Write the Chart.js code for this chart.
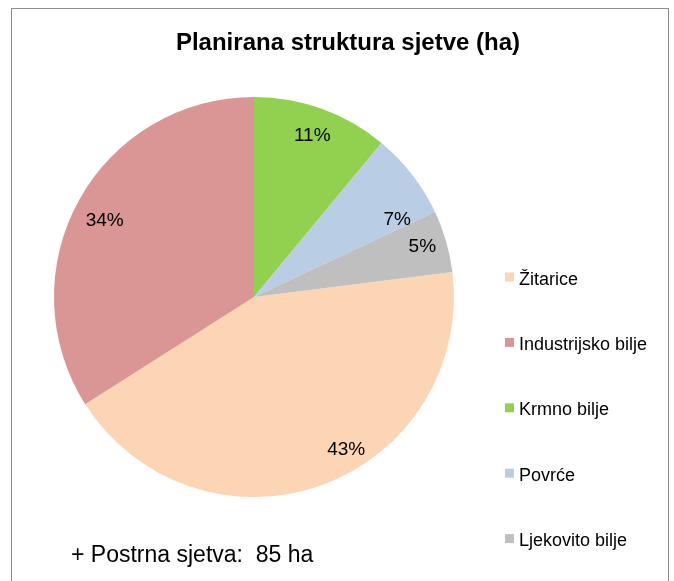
<!DOCTYPE html>
<html>
<head>
<meta charset="utf-8">
<script src="https://cdn.jsdelivr.net/npm/chart.js@4"></script>
<style>
    html, body { margin: 0; padding: 0; background: #fff; }
    #wrap { width: 674px; height: 581px; position: relative; }
</style>
</head>
<body>
<div id="wrap"><canvas id="myChart" width="674" height="581"></canvas></div>
<script>
const labels = ['Žitarice', 'Industrijsko bilje', 'Krmno bilje', 'Povrće', 'Ljekovito bilje'];
const shares = [43, 34, 11, 7, 5];
const colors = ['#fcd5b5', '#d99694', '#92d050', '#b9cde5', '#bfbfbf'];
const titleText = 'Planirana struktura sjetve (ha)';
const noteText = '+ Postrna sjetva:  85 ha';

// label placement tweaks, like Excel's "best fit": [angle shift in deg, fraction of radius]
const labelPlace = [[-11.4, 0.89], [-1.5, 0.84], [0, 0.86], [9.3, 0.815], [-0.8, 0.88]];

const font = '"Liberation Sans", Arial, sans-serif';

// frame, title, legend, note and slice labels
const decor = {
    id: 'decor',
    beforeDraw(chart) {
        const c = chart.ctx;
        c.save();
        c.fillStyle = '#fff';
        c.fillRect(0, 0, chart.width, chart.height);
        c.strokeStyle = '#8c8c8c';
        c.lineWidth = 1;
        c.strokeRect(11.5, 8.5, 657, 620);
        c.restore();
    },
    afterDraw(chart) {
        const c = chart.ctx;
        c.save();
        c.fillStyle = '#000';

        c.font = 'bold 24px ' + font;
        c.textAlign = 'center';
        c.textBaseline = 'alphabetic';
        c.fillText(titleText, 348, 50);

        // percent labels
        c.font = '19px ' + font;
        c.textBaseline = 'middle';
        const meta = chart.getDatasetMeta(0);
        meta.data.forEach((arc, i) => {
            const p = arc.getProps(['x', 'y', 'startAngle', 'endAngle', 'outerRadius'], true);
            const mid = (p.startAngle + p.endAngle) / 2 + labelPlace[i][0] * Math.PI / 180;
            const r = p.outerRadius * labelPlace[i][1];
            c.fillText(shares[i] + '%', p.x + Math.cos(mid) * r, p.y + Math.sin(mid) * r + 1);
        });

        // legend
        c.font = '18px ' + font;
        c.textAlign = 'left';
        c.textBaseline = 'alphabetic';
        labels.forEach((lab, i) => {
            const y = 284.5 + i * 65.4;
            c.fillStyle = colors[i];
            c.fillRect(505, y - 12, 9, 9);
            c.fillStyle = '#000';
            c.fillText(lab, 519, y);
        });

        c.font = '23px ' + font;
        c.fillText(noteText, 71, 562);
        c.restore();
    }
};

const ctx = document.getElementById('myChart').getContext('2d');
const myChart = new Chart(ctx, {
    type: 'pie',
    data: {
        labels: labels,
        datasets: [{
            data: shares,
            backgroundColor: colors,
            borderWidth: 0,
        }],
    },
    options: {
        responsive: false,
        animation: false,
        rotation: 82.8,
        layout: {
            padding: { left: 54, top: 97, right: 220, bottom: 84 },
        },
        plugins: {
            legend: { display: false },
            title: { display: false },
            tooltip: { enabled: false },
        },
    },
    plugins: [decor],
});
</script>
</body>
</html>
